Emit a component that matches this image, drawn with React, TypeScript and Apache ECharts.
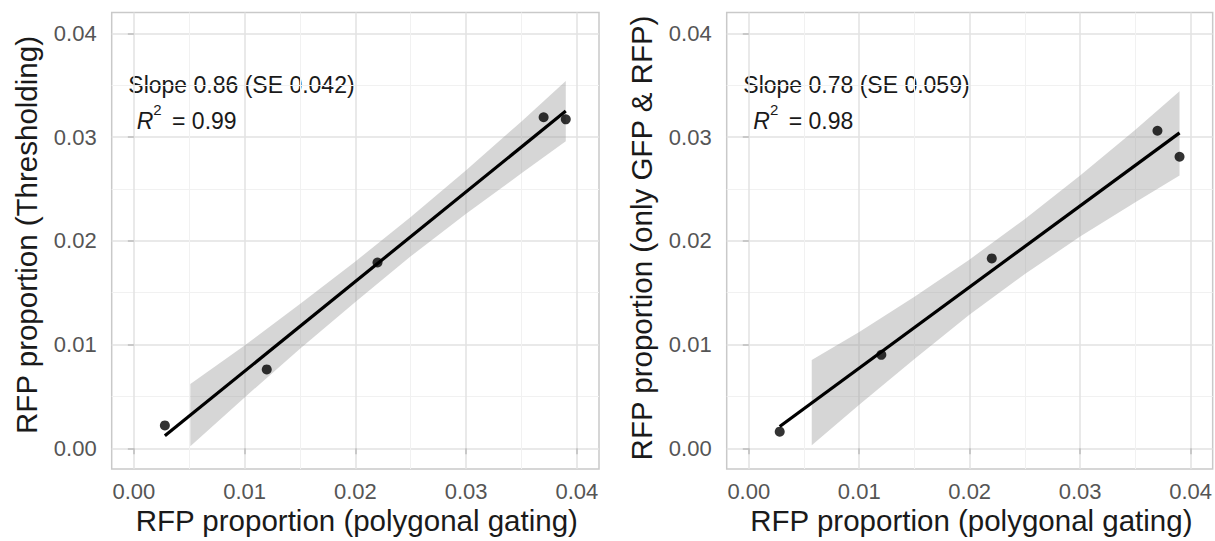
import React, { useEffect, useRef } from "react";
import * as echarts from "echarts";

// Observed points (x: polygonal gating proportion)
const xGating = [0.0028, 0.012, 0.022, 0.037, 0.039];
const yThresholding = [0.0022, 0.0076, 0.0179, 0.0319, 0.0317];
const yOnlyGfpRfp = [0.0016, 0.009, 0.0183, 0.0306, 0.0281];

// Fitted regression line end points
const fitLeftX = [0.0028, 0.039];
const fitLeftY = [0.0012, 0.0325];
const fitRightX = [0.0028, 0.039];
const fitRightY = [0.0021, 0.0304];

// Confidence bands
const bandLeftX = [0.0051, 0.01, 0.015, 0.02, 0.025, 0.03, 0.035, 0.039];
const bandLeftUpper = [0.0062, 0.0099, 0.0139, 0.018, 0.0223, 0.0268, 0.0315, 0.0354];
const bandLeftLower = [0.0002, 0.0049, 0.0096, 0.0141, 0.0185, 0.0226, 0.0265, 0.0296];
const bandRightX = [0.0057, 0.01, 0.015, 0.02, 0.025, 0.03, 0.035, 0.039];
const bandRightUpper = [0.0085, 0.0112, 0.0146, 0.0182, 0.0221, 0.0263, 0.0307, 0.0344];
const bandRightLower = [0.0003, 0.0042, 0.0086, 0.0129, 0.0168, 0.0204, 0.0237, 0.0263];

const tickValues = [0, 0.01, 0.02, 0.03, 0.04];
const axisMin = -0.002;
const axisMax = 0.042;

const slopeTexts = ["Slope 0.86 (SE 0.042)", "Slope 0.78 (SE 0.059)"];
const r2Values = ["0.99", "0.98"];
const xTitle = "RFP proportion (polygonal gating)";
const yTitles = ["RFP proportion (Thresholding)", "RFP proportion (only GFP & RFP)"];

const FONT = "'Liberation Sans', Arial, Helvetica, sans-serif";

const zip = (a: number[], b: number[]) => a.map((v, i) => [v, b[i]]);

function makeAxis(gridIndex: number, margin: number, isY: boolean) {
  return {
    type: "value",
    gridIndex,
    min: axisMin,
    max: axisMax,
    axisLine: { show: false },
    axisTick: {
      show: true,
      customValues: tickValues,
      length: 6,
      lineStyle: { color: "#bdbdbd", width: 1.5 },
    },
    axisLabel: {
      customValues: tickValues,
      formatter: (v: number) => v.toFixed(2),
      color: "#555555",
      fontSize: 22,
      fontFamily: FONT,
      margin,
      padding: isY ? [6, 0, 0, 0] : 0,
    },
    splitLine: { show: true, lineStyle: { color: "#e2e2e2", width: 1.5 } },
    minorTick: { show: false, splitNumber: 2 },
    minorSplitLine: { show: true, lineStyle: { color: "#f1f1f1", width: 1 } },
  };
}

function bandSeries(idx: number, bx: number[], up: number[], lo: number[]) {
  return {
    type: "custom",
    xAxisIndex: idx,
    yAxisIndex: idx,
    silent: true,
    data: [[bx[0], up[0]]],
    renderItem: (_params: any, api: any) => {
      const pts: number[][] = [];
      for (let i = 0; i < bx.length; i++) pts.push(api.coord([bx[i], up[i]]));
      for (let i = bx.length - 1; i >= 0; i--) pts.push(api.coord([bx[i], lo[i]]));
      return {
        type: "polygon",
        shape: { points: pts },
        style: { fill: "rgba(153,153,153,0.4)", stroke: "none" },
      };
    },
  };
}

function textEl(text: string, x: number, y: number, size: number, extra: any = {}) {
  return {
    type: "text",
    x,
    y,
    silent: true,
    rotation: extra.rotation || 0,
    style: {
      text,
      x: 0,
      y: 0,
      fill: "#1a1a1a",
      fontSize: size,
      fontFamily: FONT,
      align: extra.align || "left",
      verticalAlign: "middle",
      rich: extra.rich,
    },
  };
}

export default function App() {
  const ref = useRef<HTMLDivElement>(null);
  useEffect(() => {
    if (!ref.current) return;
    const chart = echarts.init(ref.current, null, { renderer: "svg" });
    const gridCommon = {
      show: true,
      borderColor: "#c9c9c9",
      borderWidth: 1.5,
      backgroundColor: "#ffffff",
      containLabel: false,
    };
    const panels = [
      { y: yThresholding, fx: fitLeftX, fy: fitLeftY, bx: bandLeftX, bu: bandLeftUpper, bl: bandLeftLower },
      { y: yOnlyGfpRfp, fx: fitRightX, fy: fitRightY, bx: bandRightX, bu: bandRightUpper, bl: bandRightLower },
    ];
    const series: any[] = [];
    panels.forEach((p, i) => {
      series.push({
        type: "scatter",
        xAxisIndex: i,
        yAxisIndex: i,
        symbolSize: 10,
        itemStyle: { color: "#000000" },
        data: zip(xGating, p.y),
      });
      series.push(bandSeries(i, p.bx, p.bu, p.bl));
      series.push({
        type: "line",
        xAxisIndex: i,
        yAxisIndex: i,
        showSymbol: false,
        symbol: "none",
        lineStyle: { color: "#000000", width: 3.2 },
        data: zip(p.fx, p.fy),
      });
    });

    const rich = {
      r: { fontSize: 23, fontStyle: "italic", fontFamily: FONT, fill: "#1a1a1a", color: "#1a1a1a" },
      s: { fontSize: 15, fontFamily: FONT, color: "#1a1a1a", padding: [0, 0, 23, 0] },
      n: { fontSize: 23, fontFamily: FONT, color: "#1a1a1a", padding: [0, 0, 0, 4] },
    };

    const graphics: any[] = [];
    const annot = [
      { slopeX: 128.3, rX: 136.7 },
      { slopeX: 743.3, rX: 753.3 },
    ];
    annot.forEach((a, i) => {
      graphics.push(textEl(slopeTexts[i], a.slopeX, 85.3, 23));
      graphics.push(
        textEl(`{r|R}{s|2}{n| = ${r2Values[i]}}`, a.rX, 121, 23, { rich })
      );
    });
    graphics.push(textEl(xTitle, 356.8, 520, 29.5, { align: "center" }));
    graphics.push(textEl(xTitle, 971.4, 520, 29.5, { align: "center" }));
    graphics.push(textEl(yTitles[0], 26.4, 235, 29.5, { align: "center", rotation: Math.PI / 2 }));
    graphics.push(textEl(yTitles[1], 641.7, 238, 29.5, { align: "center", rotation: Math.PI / 2 }));

    chart.setOption({
      animation: false,
      backgroundColor: "#ffffff",
      grid: [
        { ...gridCommon, left: 111.7, top: 12.5, width: 487.3, height: 456.5 },
        { ...gridCommon, left: 726.7, top: 12.5, width: 487.8, height: 456.5 },
      ],
      xAxis: [makeAxis(0, 11, false), makeAxis(1, 11, false)],
      yAxis: [makeAxis(0, 15, true), makeAxis(1, 15, true)],
      series,
      graphic: graphics,
    });
    return () => chart.dispose();
  }, []);
  return (
    <div
      ref={ref}
      style={{ position: "fixed", left: 0, top: 0, width: 1215, height: 541, background: "#fff" }}
    />
  );
}
